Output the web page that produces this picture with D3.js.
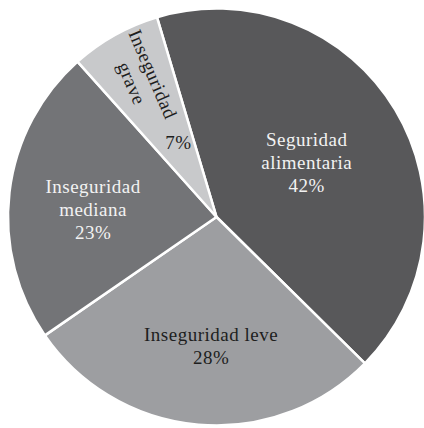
<!DOCTYPE html>
<html>
<head>
<meta charset="utf-8">
<script src="https://cdn.jsdelivr.net/npm/d3@7"></script>
<style>
  body { margin: 0; background: #fff; }
  svg { display: block; }
  text { font-family: "Liberation Serif", "DejaVu Serif", serif; font-size: 19px; letter-spacing: 0.5px; }
</style>
</head>
<body>
<svg id="chart"></svg>
<script>
// values (percent)
var categories = ["Seguridad alimentaria", "Inseguridad leve", "Inseguridad mediana", "Inseguridad grave"];
var values = [42, 28, 23, 7];
var labelLines = [["Seguridad", "alimentaria", "42%"], ["Inseguridad leve", "28%"], ["Inseguridad", "mediana", "23%"], ["Inseguridad", "grave"]];
var pctLabels = ["42%", "28%", "23%", "7%"];

var fills = ["#58585a", "#9d9ea1", "#737477", "#c8c9cb"];
var textFills = ["#f2f2f2", "#1e1e1e", "#f2f2f2", "#1e1e1e"];

var width = 424, height = 428;
var cx = 216.5, cy = 217, radius = 208.5;

var svg = d3.select("#chart")
    .attr("width", width)
    .attr("height", height);

var g = svg.append("g")
    .attr("transform", "translate(" + cx + "," + cy + ")");

var startDeg = -16.6;
var pie = d3.pie()
    .sort(null)
    .startAngle(startDeg * Math.PI / 180)
    .endAngle((startDeg + 360) * Math.PI / 180);

var arcs = pie(values);

var arc = d3.arc()
    .innerRadius(0)
    .outerRadius(radius);

g.selectAll("path.slice")
    .data(arcs)
    .enter()
    .append("path")
    .attr("class", "slice")
    .attr("d", arc)
    .style("fill", function(d, i) { return fills[i]; })
    .style("stroke", "#fff")
    .style("stroke-width", 2.5)
    .style("stroke-linejoin", "round");

// label block placement: fraction of radius, and a nudge off the mid angle (deg)
var labelR = [0.505, 0.62, 0.593];
var labelNudge = [0, -2.6, -3.7];
var lineH = 23;

arcs.forEach(function(d, i) {
    if (i === 3) return;
    var mid = (d.startAngle + d.endAngle) / 2 + labelNudge[i] * Math.PI / 180;
    var r = radius * labelR[i];
    var x = Math.sin(mid) * r, y = -Math.cos(mid) * r;
    var lines = labelLines[i];
    var t = g.append("text")
        .attr("text-anchor", "middle")
        .style("fill", textFills[i]);
    lines.forEach(function(s, k) {
        t.append("tspan")
            .attr("x", x)
            .attr("y", y + (k - (lines.length - 1) / 2) * lineH + 6)
            .text(s);
    });
});

// the thin slice: name runs along the radius, percent stays flat
var grave = arcs[3];
var gMid = (grave.startAngle + grave.endAngle) / 2;
var nameAng = gMid + 5 * Math.PI / 180;
var rotR = radius * 0.75;
var gx = Math.sin(nameAng) * rotR, gy = -Math.cos(nameAng) * rotR;
var rotDeg = 90 + gMid * 180 / Math.PI + 6;
var gt = g.append("text")
    .attr("text-anchor", "middle")
    .attr("transform", "translate(" + gx + "," + gy + ") rotate(" + rotDeg + ")")
    .style("fill", textFills[3]);
labelLines[3].forEach(function(s, k) {
    gt.append("tspan")
        .attr("x", 0)
        .attr("y", k * lineH + 6)
        .text(s);
});

var pAng = gMid + 2 * Math.PI / 180;
var pr = radius * 0.4;
g.append("text")
    .attr("text-anchor", "middle")
    .attr("x", Math.sin(pAng) * pr)
    .attr("y", -Math.cos(pAng) * pr + 6)
    .style("fill", textFills[3])
    .text(pctLabels[3]);
</script>
</body>
</html>
